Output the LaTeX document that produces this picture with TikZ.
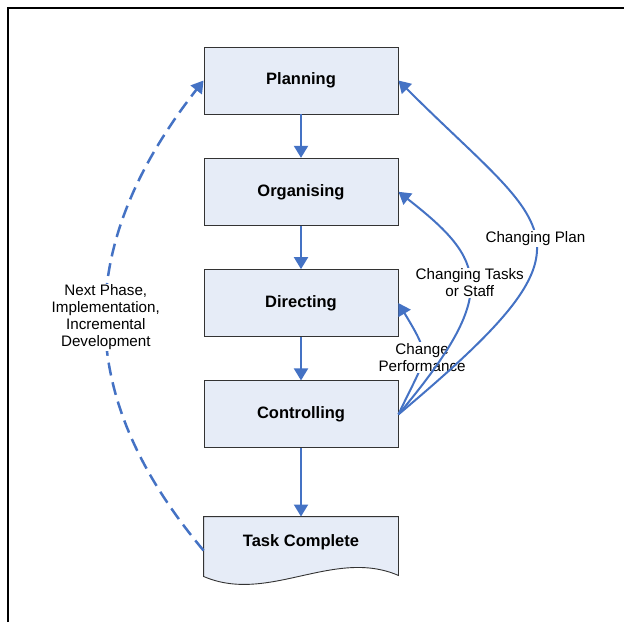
\documentclass[tikz,border=0pt]{standalone}
\usepackage{fontspec}
\setmainfont{Liberation Sans}
\usepackage{xcolor}
\usetikzlibrary{arrows.meta,positioning,backgrounds}
\definecolor{boxfill}{HTML}{E6ECF7}
\definecolor{flowblue}{HTML}{4472C4}

\begin{document}
\begin{tikzpicture}[x=1pt,y=1pt,node distance=111.3pt,on grid,
    stage/.style={draw=black!80,line width=0.9pt,fill=boxfill,minimum width=194pt,minimum height=67pt,font=\fontsize{16.5}{19}\selectfont\bfseries},
    flow/.style={color=flowblue,line width=2pt,-{Triangle[width=14pt,length=12pt]}},
    lbl/.style={fill=white,text=black,align=center,inner sep=1pt,font=\fontsize{15.2}{17}\selectfont}]
    \useasboundingbox (0,0) rectangle (624,622);
    \draw[line width=2.2pt] (8.3,0) -- (8.3,613.7) -- (624,613.7);

    \node[stage] (plan) at (301,541.5) {Planning};
    \node[stage] (org) [below=of plan] {Organising};
    \node[stage] (dir) [below=of org] {Directing};
    \node[stage] (ctrl) [below=of dir] {Controlling};
    \node[stage,draw=none,fill=none,minimum height=51pt] (done) [below=128.1pt of ctrl] {Task Complete};
    \begin{scope}[on background layer]
    \filldraw[draw=black!80,line width=0.9pt,fill=boxfill] (done.north west) -- ([yshift=-8pt]done.south west)
        .. controls +(64.7,-28) and +(-64.7,28) .. ([yshift=-7pt]done.south east) -- (done.north east) -- cycle;
    \end{scope}

    \path[flow]
    (plan) edge (org)
    (org) edge (dir)
    (dir) edge (ctrl)
    (ctrl) edge (done);

    \path[flow]
    (ctrl.east) edge [out=65,in=-59,looseness=1.55] node[lbl] {Change\\Performance} (dir.east)
    (ctrl.east) edge [out=50,in=-38,out looseness=1.84,in looseness=1.28] node[lbl] {Changing Tasks\\or Staff} (org.east)
    (ctrl.east) edge [out=40,in=-45,out looseness=2.12,in looseness=1.67] node[lbl] {Changing Plan} (plan.east);

    \path[flow,line width=2.5pt,dash pattern=on 13pt off 7pt]
    ([yshift=-8pt]done.west) edge [out=130,in=232,looseness=1.13] node[lbl] {Next Phase,\\Implementation,\\Incremental\\Development} (plan.west);
\end{tikzpicture}
\end{document}
